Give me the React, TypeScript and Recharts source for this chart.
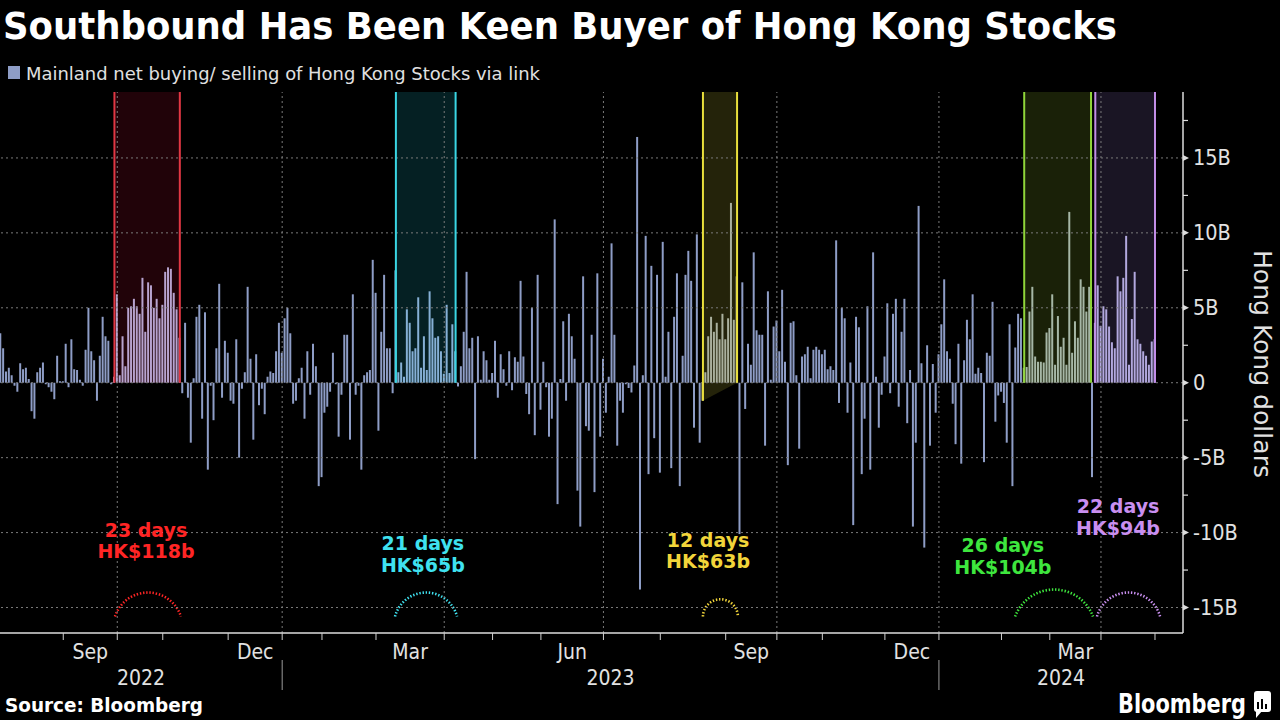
import React from 'react';
import { BarChart, Bar, XAxis, YAxis, ReferenceArea, ReferenceLine, ReferenceDot, Cell } from 'recharts';

// Daily net southbound buying (+) / selling (-), HK$ billions, late Jul 2022 - Apr 2024 (trading-day index)
const netBuying: number[] = [
  3.3, 2.3, 0.75, 1.0, 0.5, -0.2, -0.6, 1.3, 0.9, 1.0,
  0.25, -1.9, -2.4, 0.7, 1.0, 1.35, -0.1, -0.3, -0.6, -1.1,
  1.8, 0.1, 0.1, 2.6, -0.3, 2.9, 0.9, 0.85, 0.2, -0.2,
  2.2, 5.0, 2.1, 1.5, -1.2, 1.8, 4.4, 3.1, 2.8, -0.1,
  0.4, 5.9, 0.5, 3.1, 1.1, 5.0, 5.1, 5.6, 5.1, 4.6, 7.0, 3.4, 6.7,
  6.5, 5.0, 5.6, 4.3, 5.2, 7.4, 7.7, 7.6, 6.0, 4.9, 3.0,
  -0.7, 4.0, -1.0, -4.0, 0.3, 4.4, 5.2, -2.4, 4.7, -5.8, -0.2, -2.5, 2.3, 6.6, -1.0, 2.8, 2.0, -1.2, -1.4,
  2.9, -5.0, -0.4, 0.7, 6.4, 1.6, -3.8, 1.9, -1.5, -0.4, -2.1, 0.4, 0.75, 0.65, 2.1, 4.0, 2.0, 4.3, 5.0,
  3.3, -1.4, -1.2, 0.3, 1.0, -2.4, 2.1, -0.8, 2.6, 1.1, -6.9, -6.3, -2.0, -1.6, -0.6, 2.0, -0.1, -3.6, -0.8,
  3.2, 3.2, -3.8, 5.9, -0.8, -0.2, -5.8, 0.5, 0.7, 0.85, 8.2, 6.0, -3.2, 3.4, 7.2, 2.3, 2.3, -0.7,
  7.5, 0.7, 1.35, 0.4, 4.9, 4.0, 2.1, 2.3, 5.7, 1.0, 3.1, 0.85, 6.1, 4.3, 3.0, 3.1,
  2.1, 0.6, 5.2, 0.65, 3.9, 2.1,
  -0.25, 1.1, 3.4, 7.4, 2.3, 3.0, -5.1, 3.1, 0.2, 2.1, 1.5, 0.2, 0.65, 2.8, -1.0, 1.9, 0.9, -0.2, 2.1, -0.5, 1.7, 1.4,
  6.8, 1.75, -0.75, -2.1, 5.0, -3.5, 7.2, -1.8, 1.4, -0.3, -3.6, -2.4, 10.9, -8.1, 0.25, 4.1, -1.2, 4.6, 3.1, 1.6, -7.2,
  -9.6, 7.1, -2.9, -3.2, 3.2, -7.3, 7.3, -3.6, 1.6, -2.0, 0.4, 9.3, 3.2, -4.2, -1.2, -2.0, -0.1, -0.35, -0.65, 1.15, 16.4, -13.8,
  0.5, 9.8, -6.1, 7.8, -3.7, 7.2, -6.0, 9.4, 0.4, 3.4, -5.7, 4.4, 7.3, -6.9, 1.8, 7.2, 8.8, 6.8, -3.0, 9.9, -4.0,
  -1.2, 0.7, 3.1, 4.4, 3.4, 4.0, 2.9, 4.6, 2.9, 4.3, 12.0, 4.2, 7.1,
  -10.1, 6.7, -1.75, 2.6, 1.2, 8.7, 3.5, 3.2, 3.2, -4.2, 6.1, 0.2, 3.75, 4.15, 2.1, 6.2, 1.4, -5.5, 4.0, 4.1, 0.5, -4.4, 1.75,
  1.9, 2.4, 0.3, 2.2, 2.4, 2.2, 1.9, 2.2, 0.9, 1.1, 0.85, 9.5, -1.35, 5.0, 4.3, -2.0, 1.35, -9.5, 4.4, 3.7, -6.1, -2.4, 5.1,
  -5.8, 8.7, 0.4, -3.0, -0.8, 1.75, 5.3, -0.7, 4.6, 5.6, -1.6, 3.4, 5.6, -2.7, 0.85, -9.6, -4.0, 11.8, 1.3, -11.0, 2.5, -4.2,
  1.25, -2.0, 1.9, 3.9, 6.9, 2.1, 1.6, -1.4, -4.1, 2.6, -5.4, 1.5, 4.2, 2.9, 5.9, 0.6, 1.0, 0.65, -5.3, 2.0, 1.8, 5.4, -2.6,
  -0.85, -0.6, -1.35, -4.0, 3.9, -6.9,
  2.35, 4.6, 4.3, 1.0,
  1.05, 4.75, 6.4, 1.75, 1.4, 1.4, 1.35, 3.35, 3.65, 5.9, 1.2, 4.45, 2.4, 3.0, 1.2, 11.4, 2.0, 4.1, 3.0, 6.9, 6.4, 4.75, 6.4,
  -6.3, 4.0,
  6.5, 3.8, 5.1, 4.9, 3.75, 2.7, 2.3, 7.1, 6.1, 7.0, 9.8, 1.2, 4.25, 7.4, 2.9, 2.6, 2.1, 1.8, 1.2, 2.75, 2.9,
];

// Trading-day index where each calendar month begins (Sep 2022 ... May 2024)
const monthBoundary: number[] = [22, 41, 57, 80, 99, 113, 132, 156, 173, 190, 212, 232, 255, 273, 289, 311, 330, 352, 369, 387, 406];
const monthNames: string[] = ['Sep', 'Oct', 'Nov', 'Dec', 'Jan', 'Feb', 'Mar', 'Apr', 'May', 'Jun', 'Jul', 'Aug', 'Sep', 'Oct', 'Nov', 'Dec', 'Jan', 'Feb', 'Mar', 'Apr'];
const shownMonths: string[] = ['Sep', 'Dec', 'Mar', 'Jun'];
const yearNames: string[] = ['2022', '2023', '2024'];
const yearBoundary: number[] = [99, 330];
const quarterBoundary: number[] = [41, 99, 156, 212, 273, 330, 387];

const yMajor: number[] = [-15, -10, -5, 0, 5, 10, 15];
const yMinor: number[] = [-12.5, -7.5, -2.5, 2.5, 7.5, 12.5, 17.5];

// Buying streaks
const streakStart: number[] = [40, 139, 247, 360, 385];
const streakEnd: number[] = [63, 160, 259, 383.5, 406];
const streakDays: string[] = ['23 days', '21 days', '12 days', '26 days', '22 days'];
const streakAmount: string[] = ['HK$118b', 'HK$65b', 'HK$63b', 'HK$104b', 'HK$94b'];

const X_DOMAIN: [number, number] = [-0.25, 415.85];
const Y_DOMAIN: [number, number] = [-16.7, 19.4];

// styling / annotation layout
const streakStyle = [
  { line: '#e23744', fill: '#d0103a', tint: '#b7a3cf', text: '#ff2525', arcColor: '#ff2525', floor: 0, arc: [40.2, 63.4, -14.0], label: [51.1, -9.8, -11.2] },
  { line: '#3ad6e4', fill: '#20c8d8', tint: '#86b0d6', text: '#3fe2f0', arcColor: '#3fe2f0', floor: 0, arc: [138.7, 160.5, -14.0], label: [148.5, -10.67, -12.13] },
  { line: '#e8de3c', fill: '#e0d840', tint: '#aab09e', text: '#f2d53a', arcColor: '#f2d53a', floor: -1.2, arc: [247, 259.3, -14.45], label: [248.8, -10.47, -11.87] },
  { line: '#90d63a', fill: '#a0d030', tint: '#a6b7a6', text: '#3ee63e', arcColor: '#3ee63e', floor: 0, arc: [356.8, 384.2, -13.8], label: [352.5, -10.8, -12.27] },
  { line: '#c28ee8', fill: '#a080e0', tint: '#b2a8de', text: '#c98ff0', arcColor: '#c98ff0', floor: 0, arc: [385.6, 407.8, -14.0], label: [393, -8.2, -9.67] },
];

const BAR = '#8e9dc6';
const FONT = "'DejaVu Sans Condensed', 'DejaVu Sans', sans-serif";
const AXIS_TEXT = '#e2e2e2';

const data = netBuying.map((v, i) => ({ i, v }));

const tickKind = new Map<number, { kind: string; text?: string }>();
monthBoundary.forEach((b) => tickKind.set(b, { kind: yearBoundary.includes(b) ? 'year' : 'month' }));
monthNames.forEach((m, k) => {
  if (shownMonths.includes(m)) {
    tickKind.set((monthBoundary[k] + monthBoundary[k + 1]) / 2, { kind: 'mlabel', text: m });
  }
});
const yearEdges = [X_DOMAIN[0], ...yearBoundary, X_DOMAIN[1]];
yearNames.forEach((y, k) => tickKind.set((yearEdges[k] + yearEdges[k + 1]) / 2, { kind: 'ylabel', text: y }));
const xTicks = Array.from(tickKind.keys()).sort((a, b) => a - b);

const XTick = (props: any) => {
  const { x, y, payload } = props;
  const info = tickKind.get(payload.value);
  if (!info) return <g />;
  if (info.kind === 'month') return <line x1={x} x2={x} y1={y} y2={y + 7} stroke="#cfcfcf" strokeWidth={1} />;
  if (info.kind === 'year')
    return (
      <g>
        <line x1={x} x2={x} y1={y} y2={y + 7} stroke="#cfcfcf" strokeWidth={1} />
        <line x1={x} x2={x} y1={y + 27} y2={y + 57} stroke="#9a9a9a" strokeWidth={1} />
      </g>
    );
  if (info.kind === 'mlabel')
    return (
      <text x={x} y={y + 26} textAnchor="middle" fill={AXIS_TEXT} fontSize={21} fontFamily={FONT}>
        {info.text}
      </text>
    );
  return (
    <text x={x} y={y + 52} textAnchor="middle" fill={AXIS_TEXT} fontSize={21} fontFamily={FONT}>
      {info.text}
    </text>
  );
};

const fmtY = (v: number) => (v === 0 ? '0' : `${v}B`);

const YTick = (props: any) => {
  const { x, y, payload } = props;
  const v = payload.value;
  if (yMajor.includes(v)) {
    return (
      <g>
        <polygon points={`${x},${y - 3} ${x + 6},${y} ${x},${y + 3}`} fill="#dcdcdc" />
        <text x={x + 10} y={y} dominantBaseline="central" fill={AXIS_TEXT} fontSize={21.5} fontFamily={FONT}>
          {fmtY(v)}
        </text>
      </g>
    );
  }
  return <line x1={x} x2={x + 5} y1={y} y2={y} stroke="#dcdcdc" strokeWidth={1.2} />;
};

const barFill = (i: number) => {
  for (let k = 0; k < streakStart.length; k++) {
    if (i >= streakStart[k] && i <= streakEnd[k]) return streakStyle[k].tint;
  }
  return BAR;
};

const makeBandShape = (floor: number, top: number, color: string) => (p: any) => {
  const { x, y, width, height } = p;
  const yZero = y + (height * (top - 0)) / (top - floor);
  return (
    <polygon
      points={`${x},${y} ${x + width},${y} ${x + width},${yZero} ${x},${y + height}`}
      fill={color}
      fillOpacity={0.16}
    />
  );
};

const makeArcShape = (color: string) => (p: any) => {
  const { x, y, width, height } = p;
  const r = (width * width) / 4 / (2 * height) + height / 2;
  return (
    <path
      d={`M${x},${y + height} A${r},${r} 0 0 1 ${x + width},${y + height}`}
      fill="none"
      stroke={color}
      strokeWidth={2.6}
      strokeDasharray="1.4 1.8"
    />
  );
};

const makeLabelShape = (text: string, color: string) => (p: any) => (
  <text x={p.cx} y={p.cy} textAnchor="middle" dominantBaseline="central" fill={color} fontSize={19} fontWeight="bold" fontFamily="'DejaVu Sans', sans-serif">
    {text}
  </text>
);

export default function App() {
  return (
    <div style={{ position: 'fixed', left: 0, top: 0, width: 1280, height: 720, background: '#000', overflow: 'hidden' }}>
      <BarChart width={1280} height={720} data={data} margin={{ top: 92, right: 0, bottom: 0, left: 0 }}>
        {quarterBoundary.map((q) => (
          <ReferenceLine key={`q${q}`} x={q} stroke="#7a7a7a" strokeDasharray="2 3" />
        ))}
        {yMajor.map((v) => (
          <ReferenceLine key={`h${v}`} y={v} stroke="#7a7a7a" strokeDasharray="2 3" />
        ))}
        {streakStart.map((s, k) => (
          <ReferenceArea
            key={`band${k}`}
            x1={s}
            x2={streakEnd[k]}
            y1={streakStyle[k].floor}
            y2={Y_DOMAIN[1]}
            shape={makeBandShape(streakStyle[k].floor, Y_DOMAIN[1], streakStyle[k].fill)}
          />
        ))}
        <XAxis
          dataKey="i"
          type="number"
          domain={X_DOMAIN}
          allowDataOverflow
          ticks={xTicks}
          interval={0}
          tick={<XTick />}
          tickLine={false}
          tickSize={0}
          tickMargin={0}
          height={87}
          axisLine={{ stroke: '#dcdcdc', strokeWidth: 1.5 }}
        />
        <YAxis
          orientation="right"
          type="number"
          domain={Y_DOMAIN}
          allowDataOverflow
          ticks={[...yMajor, ...yMinor].sort((a, b) => a - b)}
          interval={0}
          tick={<YTick />}
          tickLine={false}
          tickSize={0}
          tickMargin={0}
          width={97}
          axisLine={{ stroke: '#dcdcdc', strokeWidth: 1.5 }}
        />
        <Bar dataKey="v" barSize={2} isAnimationActive={false}>
          {data.map((d) => (
            <Cell key={d.i} fill={barFill(d.i)} />
          ))}
        </Bar>
        {streakStart.map((s, k) => (
          <ReferenceLine
            key={`l${k}`}
            segment={[{ x: s, y: streakStyle[k].floor }, { x: s, y: Y_DOMAIN[1] }]}
            stroke={streakStyle[k].line}
            strokeWidth={2}
          />
        ))}
        {streakEnd.map((e, k) => (
          <ReferenceLine
            key={`r${k}`}
            segment={[{ x: e, y: 0 }, { x: e, y: Y_DOMAIN[1] }]}
            stroke={streakStyle[k].line}
            strokeWidth={2}
          />
        ))}
        {streakStyle.map((st, k) => (
          <ReferenceArea
            key={`arc${k}`}
            x1={st.arc[0]}
            x2={st.arc[1]}
            y1={-15.6}
            y2={st.arc[2]}
            shape={makeArcShape(st.arcColor)}
          />
        ))}
        {streakStyle.map((st, k) => (
          <ReferenceDot key={`d${k}`} x={st.label[0]} y={st.label[1]} r={0} shape={makeLabelShape(streakDays[k], st.text)} />
        ))}
        {streakStyle.map((st, k) => (
          <ReferenceDot key={`a${k}`} x={st.label[0]} y={st.label[2]} r={0} shape={makeLabelShape(streakAmount[k], st.text)} />
        ))}
      </BarChart>
      <svg width={1280} height={720} style={{ position: 'absolute', left: 0, top: 0, pointerEvents: 'none' }}>
        <text x={3} y={39} fill="#ffffff" fontSize={37} fontWeight="bold" fontFamily={FONT} textLength={1114} lengthAdjust="spacingAndGlyphs">
          Southbound Has Been Keen Buyer of Hong Kong Stocks
        </text>
        <rect x={8} y={66} width={12} height={13} fill={BAR} />
        <text x={26} y={80} fill="#e0e0e0" fontSize={18} fontFamily={FONT} textLength={514} lengthAdjust="spacingAndGlyphs">
          Mainland net buying/ selling of Hong Kong Stocks via link
        </text>
        <text
          x={1262}
          y={364}
          fill={AXIS_TEXT}
          fontSize={25}
          fontFamily={FONT}
          textAnchor="middle"
          dominantBaseline="central"
          textLength={228}
          lengthAdjust="spacingAndGlyphs"
          transform="rotate(90 1262 364)"
        >
          Hong Kong dollars
        </text>
        <text x={5} y={712} fill="#ffffff" fontSize={19} fontWeight="bold" fontFamily={FONT} textLength={198} lengthAdjust="spacingAndGlyphs">
          Source: Bloomberg
        </text>
        <text x={1118} y={713} fill="#ffffff" fontSize={26} fontWeight="bold" fontFamily={FONT} textLength={128} lengthAdjust="spacingAndGlyphs">
          Bloomberg
        </text>
        <rect x={1254} y={691} width={17} height={21} rx={3} fill="#ffffff" />
        <polygon points="1256,711 1256,718 1262,711" fill="#ffffff" />
        <rect x={1257} y={702} width={2} height={7} fill="#000" />
        <rect x={1261} y={699} width={2} height={10} fill="#000" />
        <rect x={1265} y={704} width={2} height={5} fill="#000" />
      </svg>
    </div>
  );
}
